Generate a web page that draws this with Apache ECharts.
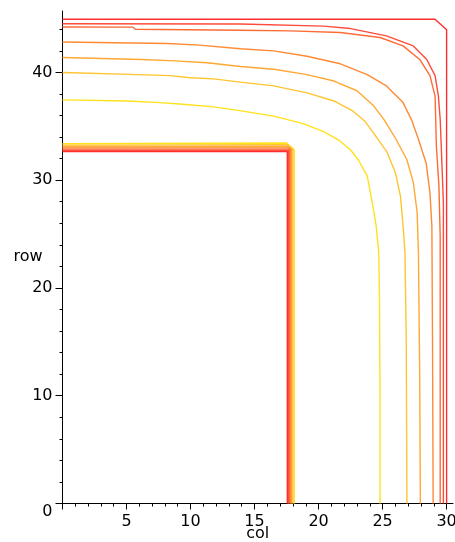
<!DOCTYPE html>
<html>
<head>
<meta charset="utf-8">
<script src="https://cdn.jsdelivr.net/npm/echarts@6/dist/echarts.min.js"></script>
<style>
html,body{margin:0;padding:0;background:#fff;}
#chart{width:455px;height:542px;}
</style>
</head>
<body>
<div id="chart"></div>
<script>
// ---- data (col, row) ----
const colTicks = [0, 5, 10, 15, 20, 25, 30];
const colLabels = [5, 10, 15, 20, 25, 30];
const rowTicks = [0, 10, 20, 30, 40];

// outer contours, level 1 (yellow) .. level 7 (red)
const outer1 = [[0,37.45],[5.1,37.35],[7.6,37.2],[9.4,37.05],[11.8,36.8],[13.6,36.5],[16.5,35.95],[18.8,35.25],[20.4,34.5],[21.6,33.7],[22.5,32.8],[23.1,31.9],[23.8,30.4],[24.15,28.2],[24.5,25.75],[24.7,23.3],[24.75,20],[24.8,10],[24.8,0]];
const outer2 = [[0,40.0],[5.9,39.8],[8.4,39.7],[10,39.5],[11.8,39.4],[13.9,39.1],[16.5,38.75],[19.1,38.1],[21.2,37.35],[22.7,36.4],[23.6,35.5],[24.4,34.2],[25.35,32.6],[26.0,30.7],[26.4,28.5],[26.6,25.75],[26.75,23.3],[26.85,15],[26.9,0]];
const outer3 = [[0,41.38],[6.2,41.2],[8.8,41.07],[11.3,40.9],[13.9,40.55],[16.5,40.3],[19.1,39.8],[21.2,39.2],[23.0,38.3],[24.3,36.9],[25.1,35.65],[26.05,33.8],[26.9,31.9],[27.4,29.8],[27.7,27.0],[27.8,23.3],[27.9,12],[27.95,0]];
const outer4 = [[0,42.83],[8.2,42.68],[10.7,42.53],[13.9,42.2],[16.5,42.0],[19.1,41.5],[21.7,40.8],[23.8,39.8],[25.3,38.75],[26.6,37.2],[27.3,35.5],[27.8,33.8],[28.4,31.6],[28.7,28.85],[28.85,25.75],[28.9,15],[28.95,0]];
const outer5 = [[0,44.22],[5.5,44.2],[5.7,44.0],[13.9,43.92],[17.8,43.86],[21.7,43.7],[24.8,43.24],[26.6,42.46],[27.9,41.2],[28.7,39.7],[29.1,37.8],[29.15,35.65],[29.2,33.2],[29.4,29.5],[29.5,24.8],[29.5,0]];
const outer6 = [[0,44.52],[13.9,44.5],[20.4,44.3],[22.5,44.07],[25.3,43.39],[27.4,42.46],[28.45,41.2],[29.1,39.7],[29.36,37.8],[29.5,35.65],[29.6,32.6],[29.75,27.9],[29.75,0]];
const outer7 = [[0,44.94],[29.1,44.94],[30.0,43.95],[30.0,0]];

// inner contours hugging the inner corner
const inner1 = [[0,33.38],[17.5,33.45],[18.1,32.85],[18.1,0]];
const inner2 = [[0,33.25],[17.55,33.3],[18.0,32.85],[18.0,0]];
const inner3 = [[0,33.12],[17.6,33.15],[17.9,32.85],[17.9,0]];
const inner4 = [[0,33.0],[17.65,33.0],[17.82,32.85],[17.82,0]];
const inner5 = [[0,32.88],[17.72,32.88],[17.72,0]];
const inner6 = [[0,32.76],[17.64,32.76],[17.64,0]];
const inner7 = [[0,32.65],[17.56,32.65],[17.56,0]];

const levelColors = ['#FFE21C', '#FFC530', '#FFA832', '#FF8A34', '#FF6A35', '#FF4B3A', '#FF2E2E'];
const outerLines = [outer1, outer2, outer3, outer4, outer5, outer6, outer7];
const innerLines = [inner1, inner2, inner3, inner4, inner5, inner6, inner7];

const font = 'DejaVu Sans';
const series = [];
outerLines.forEach((d, i) => series.push({
  type: 'line', data: d, showSymbol: false, silent: true, animation: false,
  lineStyle: { color: levelColors[i], width: 1.4 }
}));
innerLines.forEach((d, i) => series.push({
  type: 'line', data: d, showSymbol: false, silent: true, animation: false,
  lineStyle: { color: levelColors[i], width: 1.4 }
}));

const chart = echarts.init(document.getElementById('chart'), null, { renderer: 'canvas' });
chart.setOption({
  backgroundColor: '#ffffff',
  animation: false,
  grid: { left: 62.5, right: 2, top: 11, bottom: 38.5, containLabel: false, outerBoundsMode: 'none' },
  xAxis: {
    type: 'value', min: 0, max: 30.5, interval: 5,
    axisLine: { onZero: false, lineStyle: { color: '#000', width: 1 } },
    axisTick: { show: true, customValues: colTicks, length: 6, lineStyle: { color: '#000' } },
    minorTick: { show: true, splitNumber: 5, length: 3, lineStyle: { color: '#000' } },
    splitLine: { show: false },
    axisLabel: { customValues: colLabels, color: '#000', fontSize: 16, fontFamily: font, margin: 10 },
    name: 'col', nameLocation: 'middle', nameGap: 22, nameMoveOverlap: false,
    nameTextStyle: { color: '#000', fontSize: 16, fontFamily: font }
  },
  yAxis: {
    type: 'value', min: 0, max: 45.7, interval: 10,
    axisLine: { onZero: false, lineStyle: { color: '#000', width: 1 } },
    axisTick: { show: true, customValues: rowTicks, length: 7, lineStyle: { color: '#000' } },
    minorTick: { show: true, splitNumber: 5, length: 3, lineStyle: { color: '#000' } },
    splitLine: { show: false },
    axisLabel: {
      customValues: rowTicks, color: '#000', fontSize: 16, fontFamily: font, margin: 10,
      formatter: v => (v === 0 ? '{z|0}' : String(v)),
      rich: { z: { fontSize: 16, fontFamily: font, color: '#000', padding: [16, 0, 0, 0] } }
    },
    name: 'row', nameLocation: 'middle', nameRotate: 0, nameGap: 20, nameMoveOverlap: false,
    nameTextStyle: { color: '#000', fontSize: 16, fontFamily: font }
  },
  series: series
});
</script>
</body>
</html>
